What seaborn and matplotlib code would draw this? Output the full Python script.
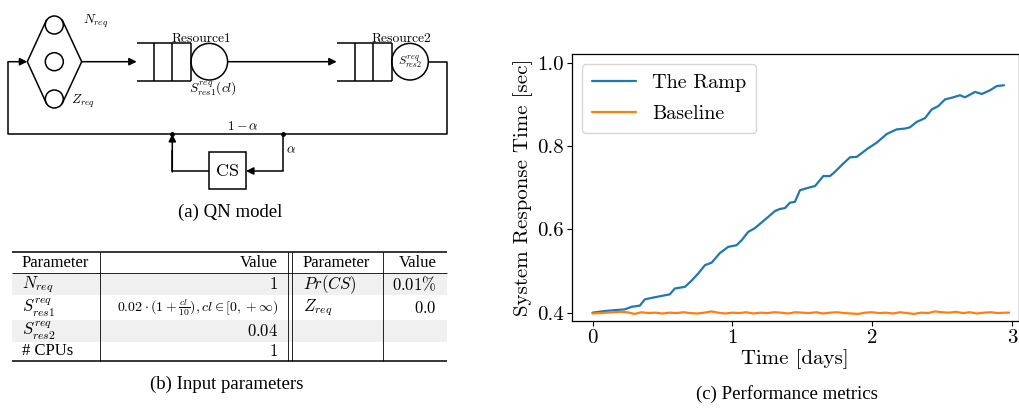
import numpy as np
import pandas as pd
import matplotlib
matplotlib.use("Agg")
import matplotlib.pyplot as plt
from matplotlib.patches import Circle, Rectangle
import seaborn as sns

# %%
# data
ramp_days = [0.0, 0.088, 0.231, 0.279, 0.339, 0.374, 0.446, 0.553, 0.589, 0.661,
             0.709, 0.756, 0.804, 0.852, 0.911, 0.971, 1.031, 1.067, 1.114, 1.162,
             1.257, 1.305, 1.341, 1.377, 1.412, 1.448, 1.484, 1.556, 1.592, 1.651,
             1.699, 1.734, 1.782, 1.842, 1.890, 1.973, 2.033, 2.105, 2.176, 2.236,
             2.271, 2.319, 2.379, 2.427, 2.474, 2.522, 2.581, 2.629, 2.665, 2.737,
             2.785, 2.844, 2.892, 2.944]
ramp_resp = [0.400, 0.404, 0.408, 0.414, 0.417, 0.432, 0.437, 0.444, 0.458, 0.462,
             0.477, 0.494, 0.514, 0.520, 0.543, 0.558, 0.562, 0.574, 0.594, 0.603,
             0.630, 0.644, 0.649, 0.651, 0.664, 0.666, 0.694, 0.701, 0.704, 0.728,
             0.728, 0.738, 0.754, 0.773, 0.774, 0.795, 0.808, 0.829, 0.840, 0.842,
             0.845, 0.858, 0.867, 0.888, 0.896, 0.912, 0.917, 0.922, 0.917, 0.930,
             0.925, 0.934, 0.944, 0.946]

base_days = [0.0, 0.05, 0.1, 0.15, 0.2, 0.25, 0.3, 0.35, 0.4, 0.45, 0.5, 0.55, 0.6,
             0.65, 0.7, 0.75, 0.8, 0.85, 0.9, 0.95, 1.0, 1.05, 1.1, 1.15, 1.2, 1.25,
             1.3, 1.35, 1.4, 1.45, 1.5, 1.55, 1.6, 1.65, 1.7, 1.75, 1.8, 1.85, 1.9,
             1.95, 2.0, 2.05, 2.1, 2.15, 2.2, 2.25, 2.3, 2.35, 2.4, 2.45, 2.5, 2.55,
             2.6, 2.65, 2.7, 2.75, 2.8, 2.85, 2.9, 2.95, 2.98]
base_resp = [0.398, 0.399, 0.400, 0.401, 0.402, 0.401, 0.397, 0.401, 0.399, 0.400,
             0.398, 0.400, 0.399, 0.401, 0.399, 0.398, 0.400, 0.403, 0.400, 0.398,
             0.400, 0.399, 0.401, 0.398, 0.400, 0.399, 0.401, 0.400, 0.398, 0.401,
             0.400, 0.399, 0.401, 0.398, 0.400, 0.401, 0.399, 0.398, 0.397, 0.400,
             0.401, 0.399, 0.400, 0.398, 0.401, 0.399, 0.397, 0.400, 0.399, 0.403,
             0.401, 0.400, 0.402, 0.399, 0.401, 0.398, 0.400, 0.401, 0.399, 0.400,
             0.400]

# table (b)
left_params = [r"$N_{req}$", r"$S^{req}_{res1}$", r"$S^{req}_{res2}$", "# CPUs"]
left_values = [r"$1$", r"$0.02\cdot(1+\frac{cl}{10}), cl\in[0,+\infty)$", r"$0.04$", r"$1$"]
right_params = [r"$Pr(CS)$", r"$Z_{req}$", "", ""]
right_values = [r"$0.01\%$", r"$0.0$", "", ""]

# %%
sns.set_style("ticks", {"axes.edgecolor": "black", "xtick.color": "black",
                        "ytick.color": "black", "text.color": "black",
                        "axes.labelcolor": "black"})
plt.rcParams["font.family"] = ["cmr10", "DejaVu Serif"]
plt.rcParams["mathtext.fontset"] = "cm"
plt.rcParams["axes.formatter.use_mathtext"] = True

fig = plt.figure(figsize=(10.19, 4.11), dpi=100)

# overlay in pixel units for the QN diagram and the table
ov = fig.add_axes([0, 0, 1, 1])
ov.set_xlim(0, 1019)
ov.set_ylim(411, 0)
ov.axis("off")

LW = 1.1
k = "black"

def seg(pts, lw=LW):
    xs, ys = zip(*pts)
    ov.plot(xs, ys, color=k, lw=lw, solid_capstyle="butt")

def arrow(p0, p1):
    ov.annotate("", xy=p1, xytext=p0,
                arrowprops=dict(arrowstyle="-|>", color=k, lw=LW,
                                mutation_scale=11, shrinkA=0, shrinkB=0))

# delay station (diamond with three circles)
yc = 61.7
for cy in (25, 61.7, 99):
    ov.add_patch(Circle((54.3, cy), 9, fill=False, lw=LW, ec=k))
seg([(46.7, 19.5), (27.3, yc), (46.7, 104)])
seg([(62.0, 19.5), (81.7, yc), (62.0, 104)])
ov.text(83, 21, r"$N_{req}$", fontsize=9.5, va="center", ha="left")
ov.text(71.5, 101, r"$Z_{req}$", fontsize=9.5, va="center", ha="left")

# queues
def queue(x0, xs, cx):
    seg([(x0, 42.7), (xs[-1], 42.7)])
    seg([(x0, 80.7), (xs[-1], 80.7)])
    for x in xs:
        seg([(x, 42.7), (x, 80.7)])
    ov.add_patch(Circle((cx, yc), 18.3, fill=False, lw=LW, ec=k))

arrow((81.7, yc), (136.7, yc))
queue(136.7, [154.3, 172.3, 191.0], 209.3)
ov.text(201.7, 41.5, "Resource1", fontsize=9.7, ha="center", va="baseline")
ov.text(212.7, 88.5, r"$S^{req}_{res1}(cl)$", fontsize=9.7, ha="center", va="center")

arrow((227.6, yc), (336.7, yc))
queue(336.7, [355.0, 373.3, 391.7], 410.0)
ov.text(401.7, 41.5, "Resource2", fontsize=9.7, ha="center", va="baseline")
ov.text(410, 62, r"$S^{req}_{res2}$", fontsize=8.5, ha="center", va="center")

# feedback loop
seg([(428.3, yc), (446.7, yc), (446.7, 134), (8.3, 134), (8.3, yc)])
arrow((8.0, yc), (27.3, yc))
ov.text(243, 126.5, r"$1-\alpha$", fontsize=9.7, ha="center", va="center")
ov.plot([172.3, 282.7], [134, 134], "o", color=k, ms=2.5)
seg([(282.7, 134), (282.7, 171)])
arrow((283.2, 171), (246, 171))
ov.add_patch(Rectangle((209, 152.3), 37, 37, fill=False, lw=LW, ec=k))
ov.text(227.5, 171.5, "CS", fontsize=13, ha="center", va="center")
seg([(209, 171), (172.3, 171), (172.3, 150)])
arrow((172.3, 172), (172.3, 134))
ov.text(291, 150, r"$\alpha$", fontsize=9.7, ha="center", va="center")

ov.text(230, 212, "(a) QN model", fontsize=13.5, family="Liberation Serif",
        ha="center", va="center")

# table (b)
tx0, tx1 = 11.7, 446.7
row_edges = [252.3, 273.3, 295.0, 320.0, 341.7, 361.0]
shade = "#f0f0f0"
for i in (0, 2):
    ov.add_patch(Rectangle((tx0, row_edges[i + 1]), tx1 - tx0,
                           row_edges[i + 2] - row_edges[i + 1],
                           fc=shade, ec="none"))
seg([(tx0, row_edges[0]), (tx1, row_edges[0])], lw=1.1)
seg([(tx0, row_edges[1]), (tx1, row_edges[1])], lw=0.6)
seg([(tx0, row_edges[-1]), (tx1, row_edges[-1])], lw=1.1)
for x in (100.0, 288.3, 292.3, 382.7):
    seg([(x, row_edges[0]), (x, row_edges[-1])], lw=0.6)

hy = (row_edges[0] + row_edges[1]) / 2
tfont = dict(fontsize=12, family="Liberation Serif", va="center")
ov.text(21.7, hy, "Parameter", ha="left", **tfont)
ov.text(278, hy, "Value", ha="right", **tfont)
ov.text(302.7, hy, "Parameter", ha="left", **tfont)
ov.text(436.7, hy, "Value", ha="right", **tfont)
for i in range(4):
    ry = (row_edges[i + 1] + row_edges[i + 2]) / 2
    fam = "Liberation Serif" if left_params[i].startswith("#") else "cmr10"
    ov.text(21.7, ry, left_params[i], ha="left", va="center", fontsize=12, family=fam)
    fs = 10 if "frac" in left_values[i] else 12
    ov.text(278, ry, left_values[i], ha="right", va="center", fontsize=fs)
    ov.text(302.7, ry, right_params[i], ha="left", va="center", fontsize=12)
    ov.text(436.7, ry, right_values[i], ha="right", va="center", fontsize=12)

ov.text(227, 384, "(b) Input parameters", fontsize=13.5, family="Liberation Serif",
        ha="center", va="center")

# %%
# performance metrics (c)
ax = fig.add_axes([571.7 / 1019, 90 / 411, 447 / 1019, 267 / 411])
sns.lineplot(x=ramp_days, y=ramp_resp, ax=ax, color="#1f77b4", lw=1.6,
             label="The Ramp")
sns.lineplot(x=base_days, y=base_resp, ax=ax, color="#ff7f0e", lw=1.6,
             label="Baseline")
ax.set_xlim(-0.149, 3.049)
ax.set_ylim(0.38, 1.021)
ax.set_xticks([0, 1, 2, 3])
ax.set_yticks([0.4, 0.6, 0.8, 1.0])
ax.set_xticklabels(["0", "1", "2", "3"])
ax.set_yticklabels(["0.4", "0.6", "0.8", "1.0"])
ax.tick_params(labelsize=15, length=3.5, width=0.8, pad=2)
for s in ax.spines.values():
    s.set_linewidth(0.9)
ax.set_xlabel("Time [days]", fontsize=15, labelpad=2)
ax.set_ylabel("System Response Time [sec]", fontsize=15, labelpad=3)
ax.legend(loc="upper left", fontsize=14.5, frameon=True, fancybox=True,
          framealpha=0.8, edgecolor="0.8", handlelength=2.2,
          labelspacing=0.65, borderpad=0.5)

ov.text(787, 394, "(c) Performance metrics", fontsize=13.5,
        family="Liberation Serif", ha="center", va="center")

fig.savefig("out.png", dpi=100)
